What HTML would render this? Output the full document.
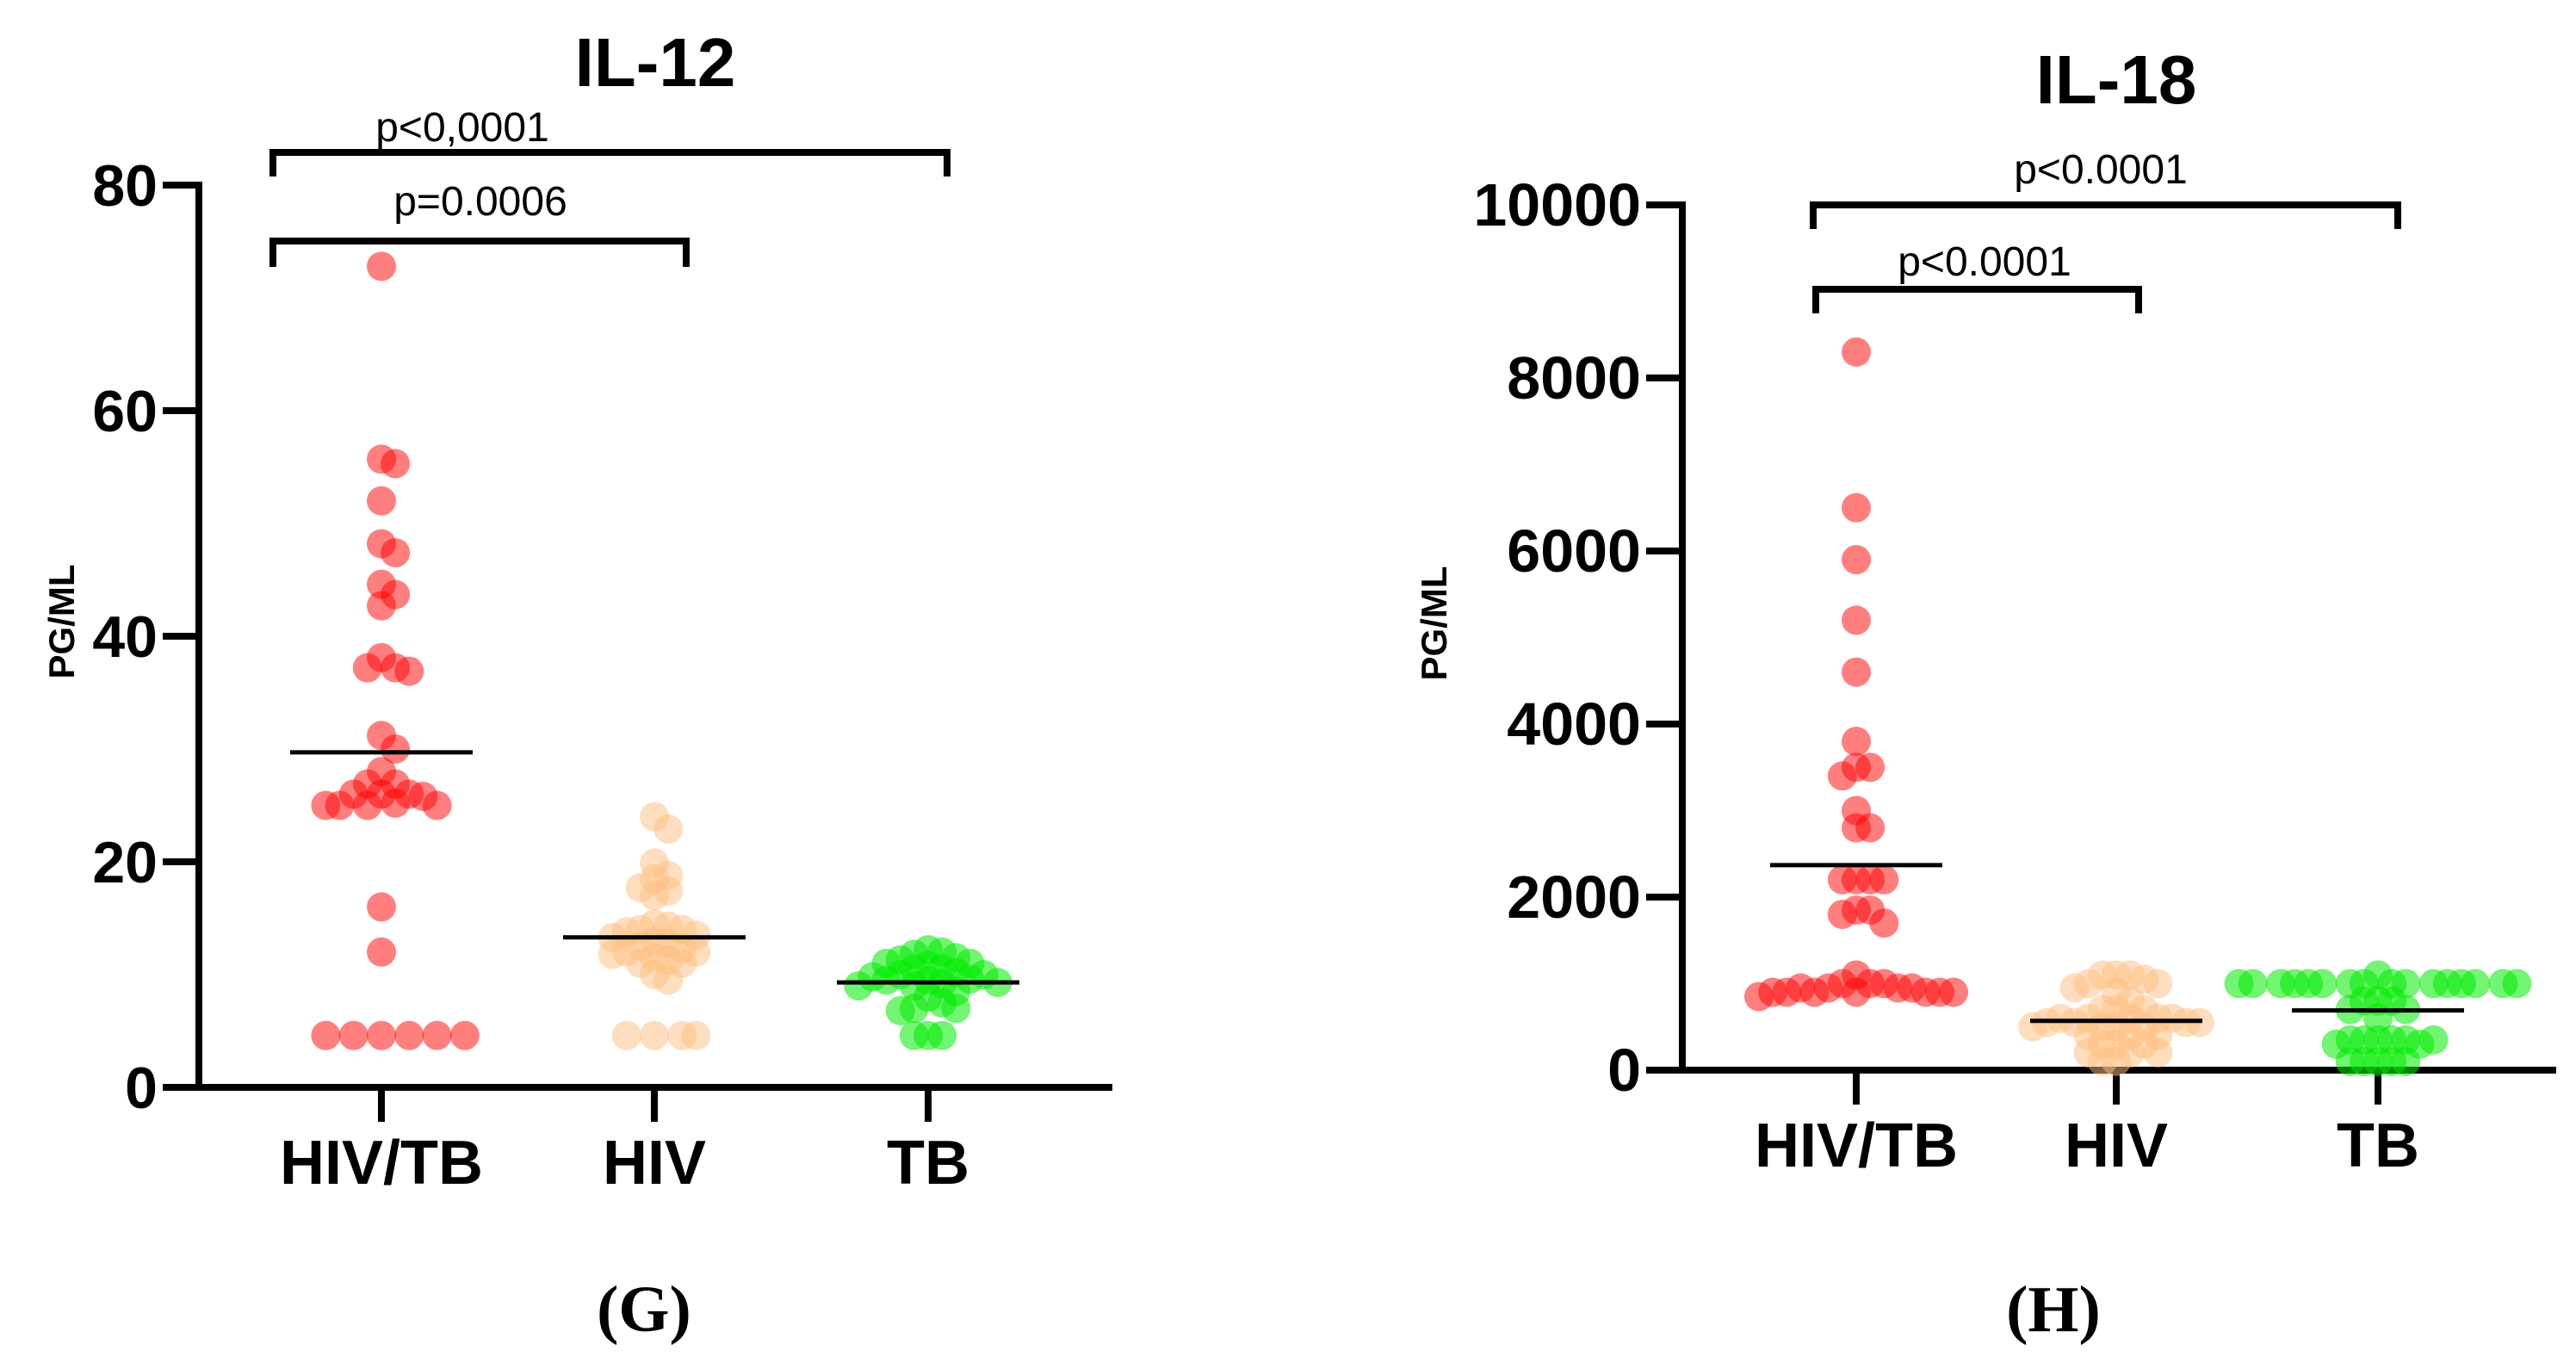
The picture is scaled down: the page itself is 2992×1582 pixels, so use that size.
<!DOCTYPE html>
<html><head><meta charset="utf-8">
<style>
html,body{margin:0;padding:0;background:#fff;}
svg{display:block;}
</style></head>
<body>
<svg id="fig" width="2992" height="1582" viewBox="0 0 2992 1582" xmlns="http://www.w3.org/2000/svg" font-family="Liberation Sans, sans-serif">
<rect width="2992" height="1582" fill="#fff"/>
<g id="g1"></g>
<g id="g2"></g>
</svg>
<script>
// ---- IL-12 data ----
const categories = ["HIV/TB","HIV","TB"];
const il12HivTb = [72.8,55.7,55.3,52,48.2,47.4,44.6,43.7,42.7,38.1,37.2,36.9,37.2,31.2,30,28,26.9,26.9,26,26,25.8,26,25,25,25,25,25.2,16,12,4.6,4.6,4.6,4.6,4.6,4.6];
const il12Hiv = [24,22.9,19.9,18.8,18.5,17.7,17.4,17,14.5,14.3,14,14,13.8,13.5,13.3,13,12.8,12.5,12.3,12,12,11.8,11.5,11.3,11,11,10,9.5,4.6,4.6,4.6,4.6];
const il12Tb = [12.2,12,11.8,11.5,11.3,11,11,10.8,10.5,10.5,10.2,10,10,9.8,9.6,9.5,9.5,9.3,9.2,9,9,8.5,8,7.5,7,7,6.8,4.6,4.6,4.6];
const il12Means = [29.7,13.3,9.3];
const il12Ticks = [0,20,40,60,80];
// ---- IL-18 data ----
const il18HivTb = [8300,6500,5900,5200,4600,3800,3500,3500,3400,3000,2800,2800,2200,2200,2200,2200,1850,1850,1800,1700,1100,1000,1000,1000,950,950,950,950,900,900,900,900,900,900,900,850];
const il18Hiv = [1100,1100,1100,1050,1000,1000,950,900,800,700,700,700,600,600,600,600,600,550,550,550,550,500,500,500,500,400,400,400,300,300,300,200,200,200,100,100];
const il18Tb = [1100,1000,1000,1000,1000,1000,1000,1000,1000,1000,1000,1000,1000,1000,1000,1000,1000,800,800,800,700,700,600,350,350,350,350,350,350,300,300,100,100,100,100,100];
const il18Means = [2370,570,690];
const il18Ticks = [0,2000,4000,6000,8000,10000];

const NS="http://www.w3.org/2000/svg";
function mk(parent,tag,attrs){const e=document.createElementNS(NS,tag);for(const k in attrs)e.setAttribute(k,attrs[k]);parent.appendChild(e);return e;}

const colors=["rgba(255,0,0,0.5)","rgba(253,190,125,0.5)","rgba(0,235,0,0.55)"];

function drawChart(g,cfg){
  const y=v=>cfg.y0-(v-cfg.min)/(cfg.max-cfg.min)*(cfg.y0-cfg.yTop);
  const x=i=>cfg.cx[i];
  let t=mk(g,"text",{x:cfg.titleX,y:cfg.titleY,"text-anchor":"middle","font-size":80,"font-weight":"bold"});
  t.textContent=cfg.title;
  
  
  let yl=mk(g,"text",{x:0,y:0,transform:`translate(${cfg.ylabX},${cfg.ylabY}) rotate(-90)`,"text-anchor":"middle","font-size":42,"font-weight":"bold"});
  yl.textContent="PG/ML";
  
  
  let ax=mk(g,"path",{d:`M${cfg.axX},${cfg.yTop-4} V${cfg.y0} H${cfg.xEnd}`,stroke:"#000","stroke-width":8,fill:"none"});
  
  
  cfg.ticks.forEach(v=>{
    let tk=mk(g,"line",{x1:cfg.axX-42,x2:cfg.axX,y1:y(v),y2:y(v),stroke:"#000","stroke-width":8});
    
    
    let tl=mk(g,"text",{x:cfg.axX-48,y:y(v)+24,"text-anchor":"end","font-size":cfg.tickFont,"font-weight":"bold"});
    tl.textContent=v;
    
    
  });
  categories.forEach((c,i)=>{
    let tk=mk(g,"line",{x1:x(i),x2:x(i),y1:cfg.y0,y2:cfg.y0+40,stroke:"#000","stroke-width":8});
    
    
    let tl=mk(g,"text",{x:x(i),y:cfg.y0+112,"text-anchor":"middle","font-size":72,"font-weight":"bold"});
    tl.textContent=c;
    
    
  });
  const r=17;
  cfg.series.forEach((vals,i)=>{
    const placed=[];
    const sorted=vals.slice().sort((a,b)=>b-a);
    sorted.forEach(v=>{
      const py=y(v);
      let px=x(i);
      for(let k=0;k<60;k++){
        const off=(k%2?1:-1)*Math.ceil(k/2)*r*0.95;
        const cand=x(i)+off;
        if(placed.every(p=>Math.hypot(p[0]-cand,p[1]-py)>=r*0.95)){px=cand;break;}
      }
      placed.push([px,py]);
      let c=mk(g,"circle",{cx:px,cy:py,r:r,fill:colors[i]});
      
      
    });
    let m=mk(g,"line",{x1:x(i)-cfg.meanHalf,x2:x(i)+cfg.meanHalf,y1:y(cfg.means[i]),y2:y(cfg.means[i]),stroke:"#000","stroke-width":5});
    
    
  });
  cfg.brackets.forEach(b=>{
    let p=mk(g,"path",{d:`M${b.x1},${b.yt} V${b.y} H${b.x2} V${b.yt}`,stroke:"#000","stroke-width":8,fill:"none"});
    
    
    let tx=mk(g,"text",{x:b.tx,y:b.ty,"text-anchor":"middle","font-size":48});
    tx.textContent=b.label;
    
    
  });
  let pl=mk(g,"text",{x:cfg.panelX,y:cfg.panelY,"text-anchor":"middle","font-size":76,"font-weight":"bold","font-family":"Liberation Serif, serif"});
  pl.textContent=cfg.panel;
  
  
}

drawChart(document.getElementById('g1'),{
  title:"IL-12",titleX:761,titleY:100,ylabX:86,ylabY:722,tickFont:68,
  axX:231,y0:1263,yTop:215,xEnd:1292,min:0,max:80,ticks:il12Ticks,
  cx:[443,760,1078],series:[il12HivTb,il12Hiv,il12Tb],means:il12Means,meanHalf:106,
  brackets:[{x1:317,x2:1100,y:177,yt:205,tx:537,ty:164,label:"p<0,0001"},
            {x1:317,x2:797,y:280,yt:310,tx:558,ty:250,label:"p=0.0006"}],
  panel:"(G)",panelX:748,panelY:1546
});
drawChart(document.getElementById('g2'),{
  title:"IL-18",titleX:2458,titleY:120,ylabX:1680,ylabY:724,tickFont:70,
  axX:1954,y0:1243,yTop:238,xEnd:2969,min:0,max:10000,ticks:il18Ticks,
  cx:[2156,2458,2762],series:[il18HivTb,il18Hiv,il18Tb],means:il18Means,meanHalf:100,
  brackets:[{x1:2106,x2:2785,y:238,yt:266,tx:2440,ty:213,label:"p<0.0001"},
            {x1:2109,x2:2484,y:336,yt:364,tx:2305,ty:320,label:"p<0.0001"}],
  panel:"(H)",panelX:2385,panelY:1546
});
</script>
</body></html>
